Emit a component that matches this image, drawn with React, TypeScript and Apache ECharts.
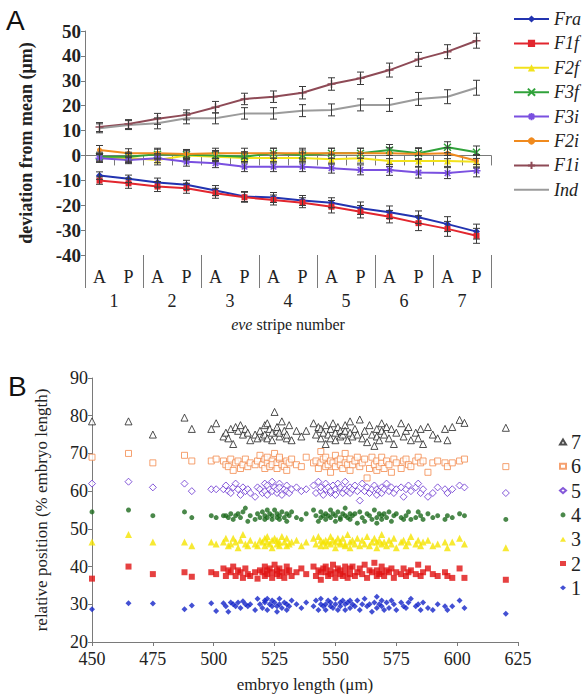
import React, { useEffect, useRef } from 'react';
import * as echarts from 'echarts';

// ---------- Panel A data ----------
const apLabels = ['A', 'P', 'A', 'P', 'A', 'P', 'A', 'P', 'A', 'P', 'A', 'P', 'A', 'P'];
const stripeNumbers = ['1', '2', '3', '4', '5', '6', '7'];
const aNames = ['Fra', 'F1f', 'F2f', 'F3f', 'F3i', 'F2i', 'F1i', 'Ind'];

const fra = [-8.1, -9.4, -10.9, -11.8, -14.1, -16.5, -16.9, -18.1, -19.0, -21.2, -22.8, -24.8, -27.6, -30.6];
const fraErr = [1.5, 1.5, 1.8, 1.8, 2, 2, 2, 2, 2, 2.5, 2.5, 2.5, 3, 3];
const f1f = [-10.1, -11.2, -12.5, -13.2, -15.2, -16.8, -17.9, -19.0, -20.6, -22.6, -24.6, -27.2, -29.5, -32.3];
const f1fErr = [1.5, 2, 2, 2, 2, 2, 2, 2, 2.5, 2.5, 2.5, 3, 3, 3];
const f2f = [-1.0, -1.0, -1.8, 0.0, -0.5, -1.0, -1.0, -1.0, -1.5, -1.1, -2.2, -2.2, -2.2, -2.5];
const f2fErr = [1.8, 1.8, 2, 1.8, 2, 2, 2, 2, 2, 2, 2.2, 2.2, 2.2, 2.5];
const f3f = [-0.5, -0.5, 0.5, 0.3, 0.0, -0.5, 0.9, 0.2, 0.9, 0.9, 2.2, 0.9, 3.3, 1.3];
const f3fErr = [1.8, 1.8, 2, 1.8, 2, 2, 2, 2, 2, 2, 2.2, 2.2, 2.2, 2.5];
const f3i = [-1.1, -1.8, -1.1, -2.5, -3.1, -4.5, -4.5, -4.5, -5.1, -5.8, -5.8, -6.9, -7.1, -6.1];
const f3iErr = [1.5, 1.5, 1.8, 1.8, 1.8, 2, 2, 2, 2, 2, 2.2, 2.2, 2.2, 2.5];
const f2i = [2.2, 0.9, 0.9, 0.6, 0.9, 0.9, 0.9, 0.9, 0.9, 0.9, 0.9, 0.6, 0.9, -2.1];
const f2iErr = [1.8, 1.8, 2, 1.8, 2, 2, 2, 2, 2, 2, 2.2, 2.2, 2.2, 2.5];
const f1i = [11.4, 12.6, 14.7, 16.3, 19.4, 22.7, 23.6, 25.2, 28.7, 31.0, 34.3, 38.6, 41.7, 46.1];
const f1iErr = [1.8, 1.8, 2.2, 2, 2.3, 2.3, 2.3, 2.5, 2.5, 2.5, 2.8, 2.8, 2.8, 3];
const ind = [10.9, 12.2, 12.9, 14.9, 14.9, 16.9, 16.9, 18.0, 18.3, 20.3, 20.3, 22.7, 23.6, 27.2];
const indErr = [1.8, 1.8, 2.2, 2.2, 2.2, 2.3, 2.3, 2.4, 2.4, 2.4, 2.6, 2.6, 2.8, 3];

// ---------- Panel B data ----------
const bNames = ['7', '6', '5', '4', '3', '2', '1'];
const embryoLengths = [
  450, 465, 475, 488, 491, 499, 501, 504, 505, 506,
  507, 508, 509, 510, 511, 512, 513, 514, 515, 517,
  518, 519, 520, 521, 521, 522, 522, 523, 524, 524,
  525, 526, 526, 527, 527, 528, 529, 530, 530, 531,
  532, 534, 536, 538, 541, 542, 543, 544, 544, 545,
  546, 546, 547, 548, 548, 549, 550, 550, 551, 552,
  552, 553, 554, 554, 555, 556, 556, 557, 558, 559,
  560, 561, 562, 563, 564, 565, 566, 567, 567, 568,
  569, 569, 570, 571, 572, 573, 574, 575, 577, 578,
  579, 580, 581, 583, 584, 585, 586, 588, 590, 592,
  595, 596, 598, 601, 603, 620,
];
const stripe7 = [
  78.5, 78.5, 75, 79.5, 76.5, 76.5, 78, 74.5, 75.5, 74,
  76.5, 72.5, 77, 76, 77.5, 75, 76.5, 75.5, 73.5, 75,
  74, 76, 74.5, 77.5, 75, 78, 74, 76.5, 75.5, 73.5,
  81, 76, 77, 74.5, 75.5, 78.5, 76, 74, 75, 77.5,
  73.5, 76, 74.5, 76, 78, 75, 77, 74, 76.5, 75.5,
  72.5, 77.5, 75, 76.5, 74, 78, 75.5, 73.5, 77, 76,
  74.5, 75, 77.5, 76, 73.5, 75.5, 78.5, 74.5, 76.5, 75,
  79, 74, 76, 73, 77.5, 75, 72, 76.5, 74.5, 73.5,
  76, 78, 75, 77, 74, 76.5, 72.5, 75.5, 78, 74.5,
  76, 77, 73.5, 75.5, 74, 76.5, 72.5, 77, 75, 74,
  76.5, 73.5, 77, 78.9, 78.1, 76.8,
];
const stripe6 = [
  69, 70, 67.5, 69.5, 68, 68, 68.5, 68, 67, 66.5,
  68.5, 65.5, 67.5, 68, 66, 67, 68.5, 66.5, 67.5, 67,
  68, 69.5, 67, 66, 68.5, 67.5, 69, 66.5, 68, 67,
  70, 67.5, 66, 68.5, 69, 67, 66.5, 68, 65.5, 67.5,
  68.5, 67, 66.5, 69, 67.5, 68, 66, 70.5, 67.5, 68.5,
  66.5, 69, 67, 68, 65, 67.5, 69.5, 66.5, 68, 67,
  68.5, 66, 67.5, 70, 67, 68.5, 65.5, 67, 68, 69,
  66.5, 67.5, 68.5, 63.5, 66, 69, 67, 65.5, 68, 66.5,
  67.5, 69, 66, 68, 67, 65, 68.5, 67.5, 66, 68,
  68.5, 67, 66.5, 68, 69, 67.5, 68, 65, 67.5, 68,
  67.5, 66.5, 67.5, 68, 68.5, 66.5,
];
const stripe5 = [
  62, 62.5, 61, 62, 60, 60.5, 60.5, 60.5, 61.5, 60,
  59.5, 61, 62, 60.5, 59, 61, 60, 60.5, 59.5, 58.5,
  61, 60.5, 59.5, 62, 60, 61.5, 59, 60.5, 62.5, 60,
  61, 59.5, 60.5, 62, 61, 59, 60.5, 61.5, 60, 59.5,
  60.5, 61, 60, 60.5, 61.5, 59.5, 62.5, 60, 61, 59,
  60.5, 62, 61, 59.5, 60, 61.5, 60.5, 59, 62, 60.5,
  61, 59.5, 60.5, 62.5, 60, 61, 59.5, 60.5, 61.5, 60,
  57.5, 62, 60, 61, 59.5, 60.5, 61.5, 59, 60.5, 60,
  61, 59.5, 60.5, 62, 60, 61, 59.5, 60.5, 61, 58.5,
  60.5, 61.5, 60, 61, 62, 59.5, 60.5, 58.5, 59.5, 61,
  60.5, 59.5, 60.5, 61.5, 61, 59.5,
];
const stripe4 = [
  54.5, 55, 53.5, 54.5, 53, 53.5, 53, 53.5, 53.5, 53,
  54, 52.5, 53.5, 54, 53, 54.5, 55.5, 52, 53.5, 52.5,
  54, 53, 54.5, 52.5, 53.5, 55, 53, 54, 52.5, 53.5,
  55, 53, 54, 52.5, 53.5, 54.5, 53, 52, 54, 53.5,
  54.5, 53, 52.5, 54, 55, 53.5, 52, 54.5, 53, 53.5,
  54, 52.5, 53.5, 55, 53, 54, 52, 53.5, 54.5, 53,
  52.5, 54, 53.5, 55.5, 53, 54, 52.5, 53.5, 54, 51.5,
  54.5, 53, 52, 54, 53.5, 52.5, 55, 53, 51.5, 54,
  53.5, 52.5, 54, 53, 54.5, 52, 53.5, 54, 53, 52.5,
  53.5, 54.5, 52.5, 53, 54.5, 53.5, 52.5, 54, 53, 53.5,
  52.5, 53.5, 53, 54, 53.5, 52.5,
];
const stripe3 = [
  46.5, 48.5, 46.5, 46.5, 45.5, 46.5, 46, 46.5, 47.5, 45.5,
  46, 47.5, 46.5, 45, 47, 48.5, 46, 45.5, 47, 46,
  45.5, 47, 46.5, 47.5, 45.5, 46.5, 48, 46, 47, 45,
  47.5, 46, 47, 45.5, 46.5, 48, 46.5, 45.5, 47.5, 46,
  46.5, 47, 45.5, 46.5, 47.5, 46, 48, 45.5, 47, 46.5,
  47, 45.5, 46.5, 48, 46, 47, 45, 46.5, 47.5, 46,
  46.5, 47.5, 45.5, 46, 48.5, 46.5, 45, 47, 46, 47.5,
  45.5, 47, 46, 48, 45.5, 46.5, 47.5, 45, 46.5, 47,
  46, 48.5, 46.5, 45.5, 47, 46, 47.5, 45, 46.5, 47,
  45.5, 46.5, 48, 46, 47, 45.5, 46.5, 47, 45.5, 46,
  46.5, 45, 46.5, 47.5, 46, 45,
];
const stripe2 = [
  36.8, 40, 38, 38.5, 37.3, 38.5, 38, 39.5, 37.5, 39,
  38.5, 40, 37.5, 39, 38.5, 37, 39.5, 38, 37.5, 38.5,
  36.8, 39, 38.5, 40, 37.5, 39, 38, 39.5, 37, 38.5,
  40.5, 38, 39, 37.5, 39.5, 38.5, 37, 40, 38.5, 39,
  37.5, 38.5, 39.5, 38, 40, 37.5, 39, 38.5, 36.5, 39.5,
  38.5, 40, 37.5, 39, 38, 40.5, 37, 38.5, 39.5, 38,
  39, 37.5, 40, 38.5, 37, 39.5, 38, 40, 37.5, 38.5,
  39.5, 38, 40.5, 37, 39, 38.5, 41, 37.5, 39, 38,
  38.5, 40, 37.5, 39, 38.5, 39.5, 37, 38.5, 38, 39.5,
  37.5, 38.5, 39, 38, 40.5, 37.5, 38.5, 39.5, 38, 37.5,
  38.5, 37.5, 37, 39.5, 37, 36.5,
];
const stripe1 = [
  28.7, 30.3, 30.2, 28.7, 29.7, 30.3, 28.2, 30.3, 29.5, 28,
  30.5, 30, 29.5, 30.5, 29, 30.8, 30, 29.5, 30, 28.5,
  31.5, 30, 29, 31, 30.5, 28.5, 31.5, 30, 29.5, 31,
  30.5, 28, 29.5, 31.5, 30, 29, 30.5, 28.5, 30, 29.5,
  31, 30, 29, 30.5, 29.5, 31, 28.5, 30, 31.5, 29.5,
  30, 28.5, 31, 29.5, 30.5, 29, 31.5, 30, 28.5, 30.5,
  29.5, 31, 30, 28.5, 30.5, 29, 31, 30, 29.5, 31,
  28.5, 30, 31.5, 29.5, 30, 28, 30.5, 32, 29, 30,
  31, 29.5, 28.5, 30.5, 29, 31, 30, 28.5, 30.5, 29.5,
  29, 30.5, 31.5, 29.5, 30, 28.5, 30.5, 29, 28.5, 30,
  29.5, 28.5, 29.5, 31, 29, 27.5,
];

const SERIF = 'Liberation Serif';
const SANS = 'Liberation Sans';

const aSeries = [
  { name: 'Fra', values: fra, err: fraErr, color: '#2233b0', symbol: 'diamond', size: 7 },
  { name: 'F1f', values: f1f, err: f1fErr, color: '#e2262e', symbol: 'rect', size: 6 },
  { name: 'F2f', values: f2f, err: f2fErr, color: '#f2e21c', symbol: 'triangle', size: 7 },
  { name: 'F3f', values: f3f, err: f3fErr, color: '#30a23a', symbol: 'path://M0 0 L10 10 M10 0 L0 10', size: 7 },
  { name: 'F3i', values: f3i, err: f3iErr, color: '#7a50e0', symbol: 'path://M5 0 L5 10 M0 5 L10 5 M1.5 1.5 L8.5 8.5 M8.5 1.5 L1.5 8.5', size: 8 },
  { name: 'F2i', values: f2i, err: f2iErr, color: '#f08a1e', symbol: 'circle', size: 5 },
  { name: 'F1i', values: f1i, err: f1iErr, color: '#8e4a56', symbol: 'path://M5 0 L5 10 M0 5 L10 5', size: 8 },
  { name: 'Ind', values: ind, err: indErr, color: '#9b9b9b', symbol: 'none', size: 0 },
];

const bSeries = [
  { name: '7', values: stripe7, color: '#222222', symbol: 'triangle', size: 7, hollow: true },
  { name: '6', values: stripe6, color: '#f28a4c', symbol: 'rect', size: 6, hollow: true },
  { name: '5', values: stripe5, color: '#6630d0', symbol: 'diamond', size: 7, hollow: true },
  { name: '4', values: stripe4, color: '#1d6a1d', symbol: 'circle', size: 5, hollow: false },
  { name: '3', values: stripe3, color: '#f5e400', symbol: 'triangle', size: 7, hollow: false },
  { name: '2', values: stripe2, color: '#e01212', symbol: 'rect', size: 6, hollow: false },
  { name: '1', values: stripe1, color: '#1424c8', symbol: 'diamond', size: 6, hollow: false },
];

export default function App() {
  const ref = useRef<HTMLDivElement>(null);

  useEffect(() => {
    if (!ref.current) return;
    const chart = echarts.init(ref.current, null, { renderer: 'svg' });

    const lineSeries = aSeries.map((s) => ({
      type: 'line',
      name: s.name,
      xAxisIndex: 0,
      yAxisIndex: 0,
      data: s.values,
      symbol: s.symbol === 'none' ? 'circle' : s.symbol,
      symbolSize: s.size,
      showSymbol: s.symbol !== 'none',
      z: 2,
      lineStyle: { color: s.color, width: 2 },
      itemStyle: { color: s.color, borderColor: s.color, borderWidth: s.symbol.startsWith('path') ? 1.5 : 0 },
    }));

    const errSeries = aSeries.map((s) => ({
      type: 'custom',
      xAxisIndex: 0,
      yAxisIndex: 0,
      z: 3,
      silent: true,
      encode: { x: 0, y: [1, 2] },
      data: s.values.map((v, i) => [i, v - s.err[i], v + s.err[i]]),
      renderItem: (params: any, api: any) => {
        const i = api.value(0);
        const lo = api.coord([i, api.value(1)]);
        const hi = api.coord([i, api.value(2)]);
        const w = 3.5;
        const st = { stroke: '#3a3a3a', lineWidth: 1 };
        return {
          type: 'group',
          children: [
            { type: 'line', shape: { x1: lo[0], y1: lo[1], x2: hi[0], y2: hi[1] }, style: st },
            { type: 'line', shape: { x1: lo[0] - w, y1: lo[1], x2: lo[0] + w, y2: lo[1] }, style: st },
            { type: 'line', shape: { x1: hi[0] - w, y1: hi[1], x2: hi[0] + w, y2: hi[1] }, style: st },
          ],
        };
      },
    }));

    const scatterSeries = bSeries.map((s) => ({
      type: 'scatter',
      name: s.name,
      xAxisIndex: 2,
      yAxisIndex: 1,
      symbol: s.symbol,
      symbolSize: s.size,
      data: embryoLengths.map((x, i) => [x, s.values[i]]),
      itemStyle: s.hollow
        ? { color: '#ffffff', borderColor: s.color, borderWidth: 1 }
        : { color: s.color },
    }));

    const axisGray = '#7a7a7a';

    const legendA = aNames.map((n) =>
      n === 'Ind' ? { name: n, itemStyle: { color: 'rgba(0,0,0,0)', borderWidth: 0 } } : { name: n }
    );

    chart.setOption({
      animation: false,
      backgroundColor: '#ffffff',
      grid: [
        { left: 85, top: 31, width: 406, height: 224 },
        { left: 92, top: 378, width: 426, height: 264 },
      ],
      xAxis: [
        {
          type: 'category',
          gridIndex: 0,
          data: apLabels,
          boundaryGap: true,
          axisLine: { lineStyle: { color: axisGray, width: 1 } },
          axisTick: { show: true, length: 10, lineStyle: { color: axisGray } },
          axisLabel: { fontFamily: SERIF, fontSize: 18, color: '#222', margin: 13, interval: 0 },
        },
        {
          type: 'category',
          gridIndex: 0,
          position: 'bottom',
          data: stripeNumbers,
          boundaryGap: true,
          axisLine: { show: false },
          axisTick: { show: true, length: 33, lineStyle: { color: axisGray } },
          axisLabel: { fontFamily: SERIF, fontSize: 18, color: '#222', margin: 37, interval: 0 },
          name: '{i|eve} stripe number',
          nameLocation: 'middle',
          nameGap: 61,
          nameTextStyle: {
            fontFamily: SERIF,
            fontSize: 16,
            color: '#222',
            rich: { i: { fontFamily: SERIF, fontSize: 16, fontStyle: 'italic', color: '#222' } },
          },
        },
        {
          type: 'value',
          gridIndex: 1,
          min: 450,
          max: 625,
          interval: 25,
          splitLine: { show: false },
          axisLine: { lineStyle: { color: axisGray } },
          axisTick: { show: true, length: 4, inside: false, lineStyle: { color: axisGray } },
          axisLabel: { fontFamily: SERIF, fontSize: 18, color: '#222', margin: 8 },
          name: 'embryo length (μm)',
          nameLocation: 'middle',
          nameGap: 34,
          nameTextStyle: { fontFamily: SERIF, fontSize: 17, color: '#222' },
        },
      ],
      yAxis: [
        {
          type: 'value',
          gridIndex: 0,
          min: -40,
          max: 50,
          interval: 10,
          splitLine: { show: false },
          axisLine: { show: true, lineStyle: { color: axisGray } },
          axisTick: { show: true, length: 4, lineStyle: { color: axisGray } },
          axisLabel: { fontFamily: SERIF, fontSize: 19, fontWeight: 'bold', color: '#222', margin: 4 },
          name: 'deviation from mean (μm)',
          nameLocation: 'middle',
          nameGap: 50,
          nameTextStyle: { fontFamily: SERIF, fontSize: 18, fontWeight: 'bold', color: '#222' },
        },
        {
          type: 'value',
          gridIndex: 1,
          min: 20,
          max: 90,
          interval: 10,
          splitLine: { show: false },
          axisLine: { show: true, lineStyle: { color: axisGray } },
          axisTick: { show: true, length: 4, lineStyle: { color: axisGray } },
          axisLabel: { fontFamily: SERIF, fontSize: 18, color: '#222', margin: 4 },
          name: 'relative position (% embryo length)',
          nameLocation: 'middle',
          nameGap: 42,
          nameTextStyle: { fontFamily: SERIF, fontSize: 17, color: '#222' },
        },
      ],
      legend: [
        {
          orient: 'vertical',
          left: 508,
          top: 4,
          itemWidth: 35,
          itemHeight: 9,
          itemGap: 4.4,
          data: legendA,
          textStyle: { fontFamily: SERIF, fontStyle: 'italic', fontSize: 18, color: '#222', lineHeight: 20 },
        },
        {
          orient: 'vertical',
          left: 554,
          top: 427,
          itemWidth: 6,
          itemHeight: 5,
          itemGap: 4.3,
          data: bNames,
          textStyle: { fontFamily: SERIF, fontSize: 20, color: '#222', lineHeight: 20 },
        },
      ],
      graphic: [
        { type: 'text', left: 6, top: 6, style: { text: 'A', fontFamily: SANS, fontSize: 28, fill: '#111' } },
        { type: 'text', left: 8, top: 372, style: { text: 'B', fontFamily: SANS, fontSize: 28, fill: '#111' } },
      ],
      series: [...lineSeries, ...errSeries, ...scatterSeries],
    });

    return () => chart.dispose();
  }, []);

  return (
    <div
      ref={ref}
      style={{ position: 'absolute', left: 0, top: 0, width: 583, height: 696, background: '#fff' }}
    />
  );
}
